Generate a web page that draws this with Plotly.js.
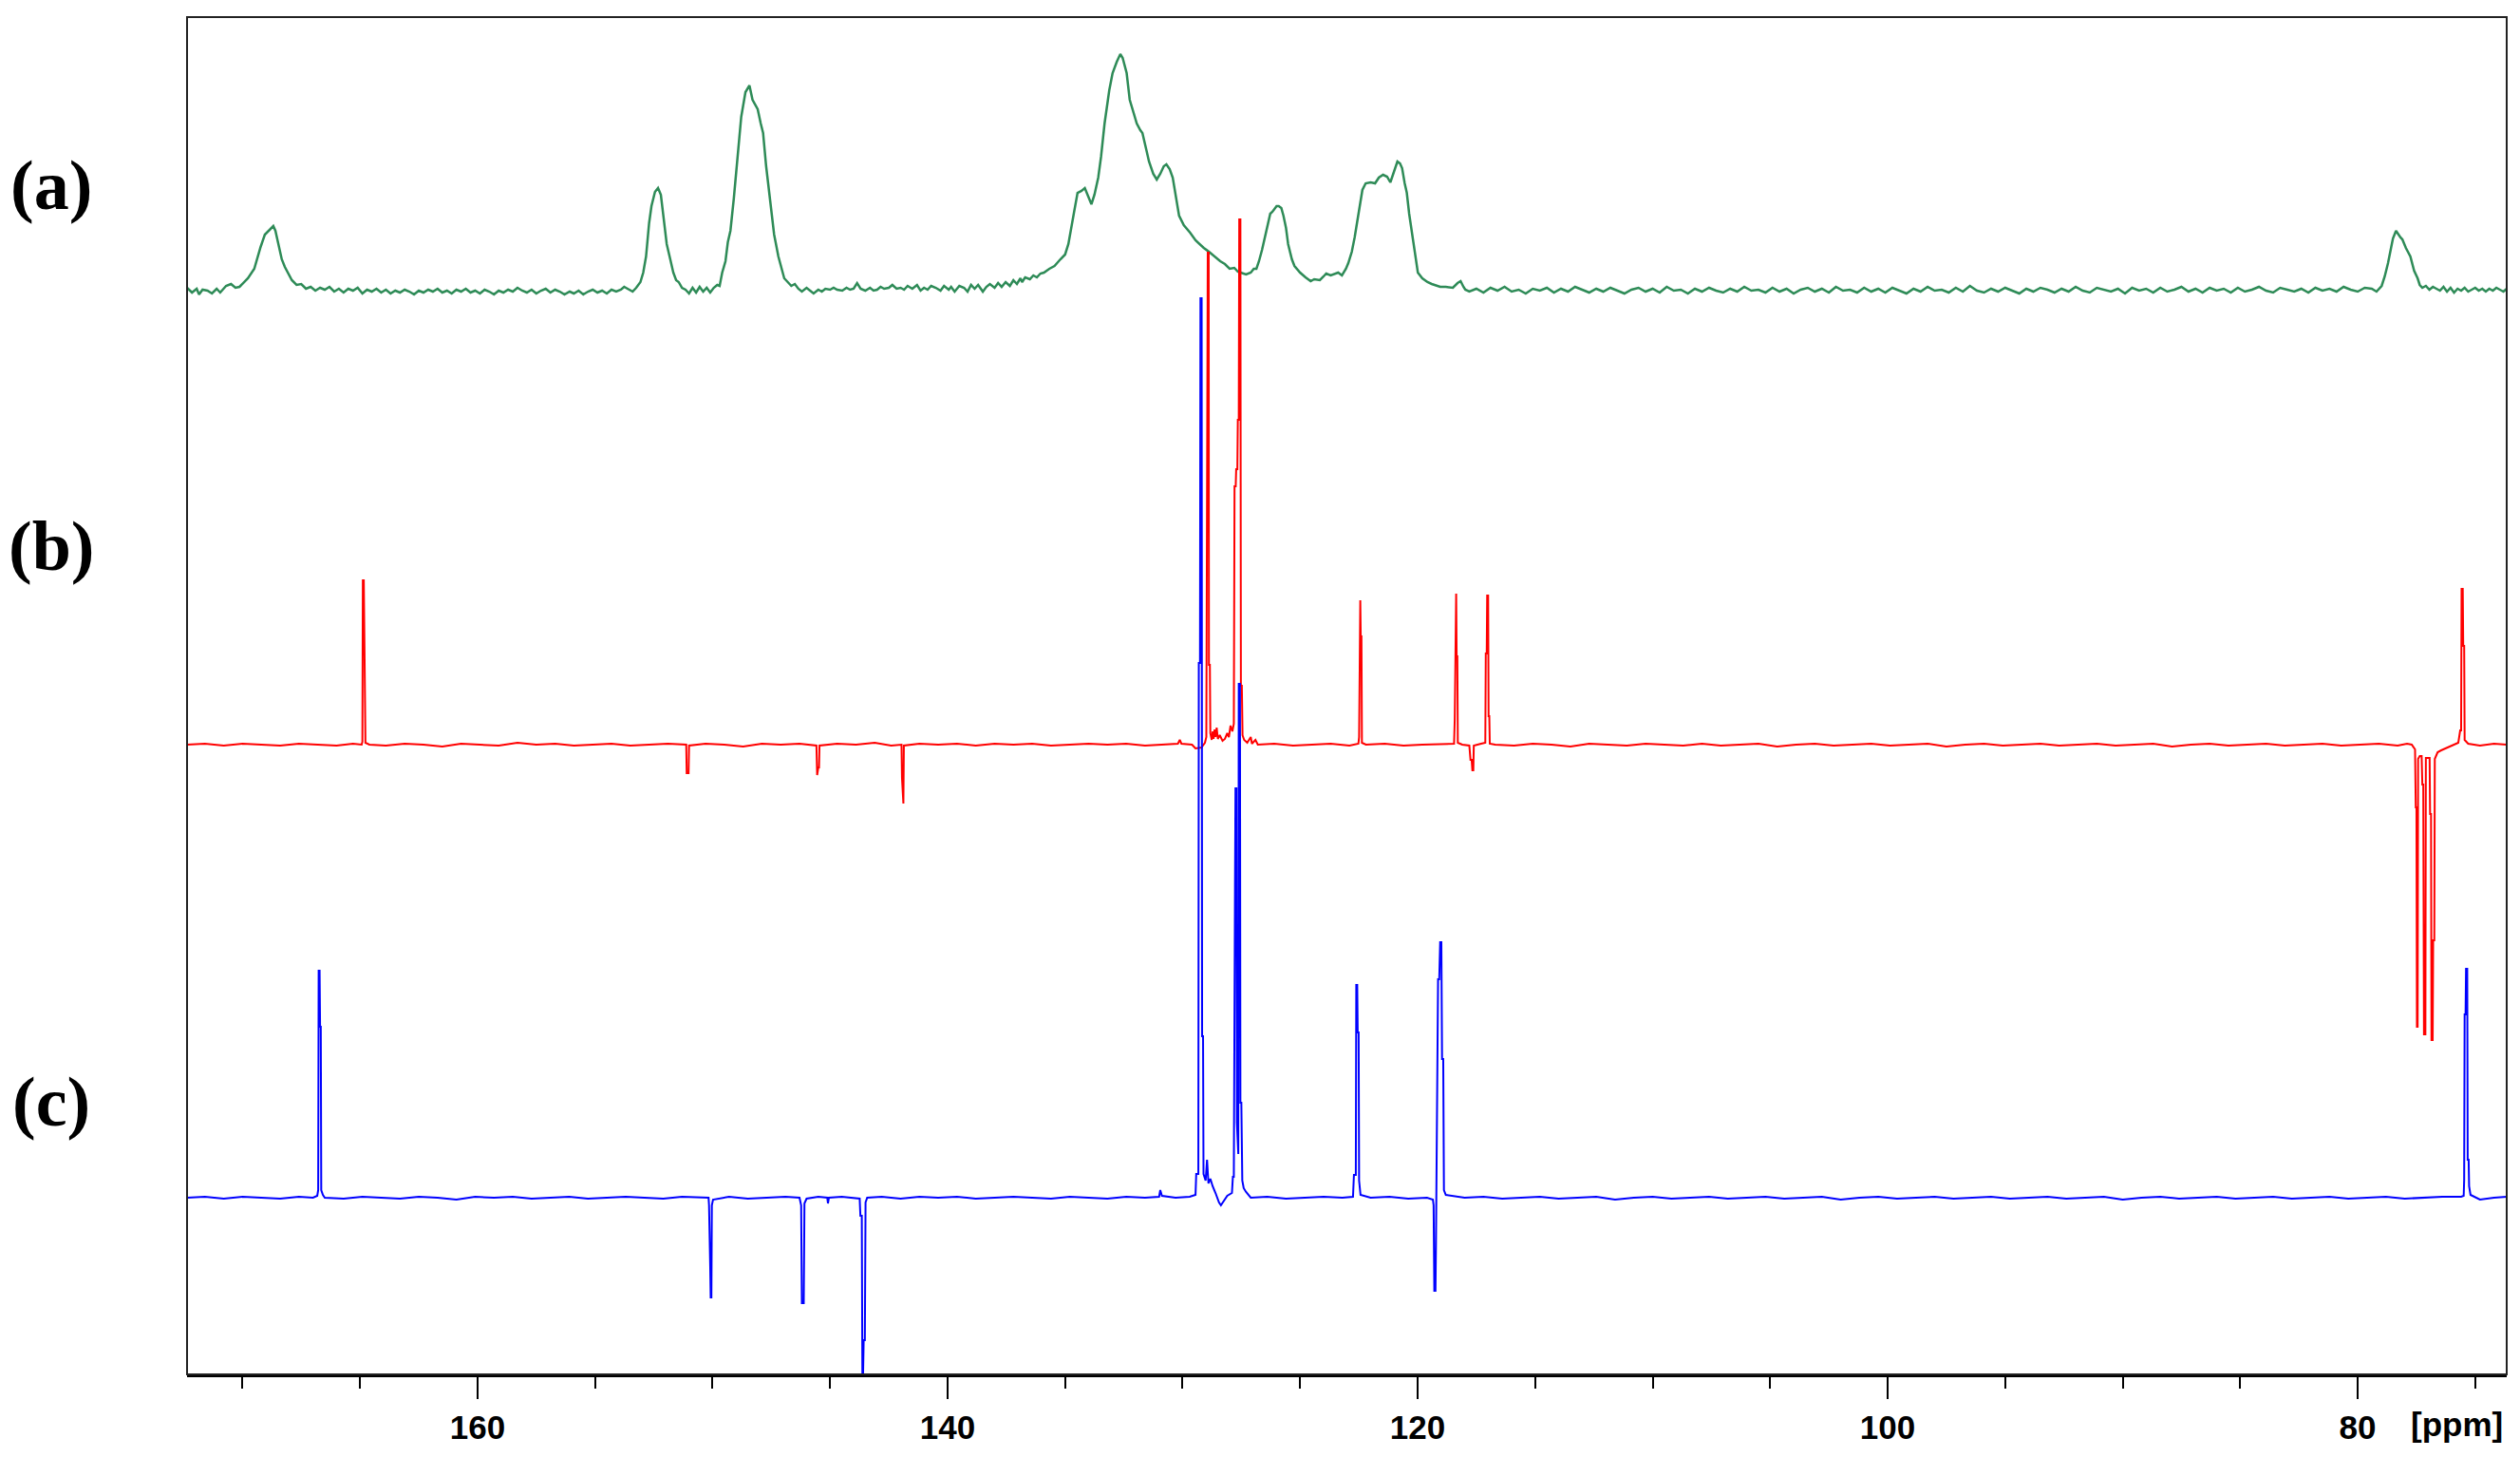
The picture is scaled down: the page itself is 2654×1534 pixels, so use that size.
<!DOCTYPE html>
<html>
<head>
<meta charset="utf-8">
<script src="https://cdn.plot.ly/plotly-3.0.1.min.js"></script>
<style>
  html, body { margin: 0; padding: 0; background: #fff; }
  #spectra { width: 2654px; height: 1534px; }
</style>
</head>
<body>
<div id="spectra"></div>
<script>
// chemical shift [ppm], intensity above the trace's own baseline
var specA = [
  [172.36,2],[172.15,-3],[171.95,1],[171.85,-5],[171.7,0],[171.49,-1],[171.3,-4],[171.1,1],[170.95,-3],[170.7,4],
  [170.49,6],[170.3,2],[170.13,3],[169.95,8],[169.77,12],[169.5,22],[169.35,36],[169.23,45],[169.05,58],[168.85,63],
  [168.69,67],[168.6,62],[168.51,52],[168.33,32],[168.2,24],[168.06,18],[167.9,10],[167.7,5],[167.5,6],[167.3,1],
  [167.1,3],[166.9,-1],[166.7,2],[166.5,0],[166.3,3],[166.1,-2],[165.9,1],[165.7,-3],[165.5,1],[165.3,-1],
  [165.1,2],[164.9,-4],[164.7,0],[164.5,-2],[164.3,1],[164.1,-3],[163.9,0],[163.7,-4],[163.5,-1],[163.3,-3],
  [163.1,0],[162.9,-2],[162.7,-5],[162.5,-1],[162.3,-3],[162.1,0],[161.9,-2],[161.7,1],[161.5,-3],[161.3,-1],
  [161.1,-4],[160.9,0],[160.7,-2],[160.5,1],[160.3,-3],[160.1,-1],[159.9,-4],[159.7,0],[159.5,-2],[159.3,-5],
  [159.1,-1],[158.9,-3],[158.7,0],[158.5,-2],[158.3,2],[158.1,-1],[157.9,-3],[157.7,0],[157.5,-4],[157.3,-1],
  [157.1,1],[156.9,-3],[156.7,0],[156.5,-2],[156.3,-5],[156.08,-2],[155.9,-4],[155.7,-1],[155.5,-5],[155.3,-2],
  [155.1,0],[154.9,-3],[154.7,-1],[154.5,-4],[154.3,0],[154.1,-2],[153.9,0],[153.76,3],[153.6,1],[153.4,-2],
  [153.25,2],[153.07,8],[152.95,18],[152.83,35],[152.7,70],[152.6,88],[152.45,103],[152.32,107],[152.2,100],[152.14,88],
  [152.05,70],[151.95,48],[151.8,32],[151.67,18],[151.55,10],[151.44,8],[151.3,2],[151.15,0],[151.0,-4],[150.85,2],
  [150.7,-3],[150.55,3],[150.4,-2],[150.25,2],[150.1,-3],[149.95,2],[149.8,5],[149.7,4],[149.59,18],[149.45,30],
  [149.35,50],[149.24,62],[149.1,95],[149.01,120],[148.9,150],[148.78,182],[148.6,208],[148.43,215],[148.3,200],[148.2,195],
  [148.08,190],[147.95,175],[147.85,165],[147.72,130],[147.62,110],[147.5,80],[147.38,58],[147.2,35],[147.08,25],[146.95,12],
  [146.8,8],[146.65,4],[146.5,6],[146.35,1],[146.2,-2],[146.0,2],[145.85,-1],[145.7,-4],[145.5,0],[145.35,-2],
  [145.2,1],[145.0,0],[144.85,2],[144.7,0],[144.48,-1],[144.3,2],[144.15,0],[144.0,1],[143.85,7],[143.7,1],
  [143.5,-1],[143.3,2],[143.15,-1],[143.0,0],[142.85,3],[142.7,1],[142.5,2],[142.35,5],[142.17,1],[142.0,2],
  [141.85,0],[141.7,4],[141.5,1],[141.3,5],[141.15,-1],[141.0,2],[140.85,0],[140.7,4],[140.5,2],[140.3,-1],
  [140.15,4],[139.95,0],[139.85,3],[139.7,-2],[139.5,4],[139.3,2],[139.15,-2],[139.0,5],[138.85,1],[138.7,5],
  [138.5,-2],[138.35,3],[138.2,6],[138.0,2],[137.85,7],[137.7,3],[137.53,8],[137.35,4],[137.2,10],[137.05,6],
  [136.9,12],[136.83,8],[136.7,13],[136.5,11],[136.35,15],[136.2,13],[136.05,17],[135.9,18],[135.67,22],[135.45,25],
  [135.2,32],[135.0,37],[134.86,48],[134.75,62],[134.63,80],[134.47,102],[134.3,104],[134.16,107],[134.0,98],[133.88,90],
  [133.75,100],[133.59,118],[133.47,140],[133.32,175],[133.12,210],[132.98,228],[132.8,240],[132.65,248],[132.55,244],[132.38,228],
  [132.25,200],[132.11,188],[131.95,175],[131.8,168],[131.71,165],[131.55,148],[131.43,135],[131.25,122],[131.1,116],[130.95,122],
  [130.8,130],[130.69,132],[130.55,127],[130.42,118],[130.3,100],[130.15,78],[129.95,68],[129.68,60],[129.45,52],[129.28,48],
  [129.1,44],[128.88,40],[128.6,34],[128.4,30],[128.2,27],[128.0,22],[127.8,23],[127.65,19],[127.53,18],[127.3,16],
  [127.1,18],[126.97,22],[126.86,22],[126.75,30],[126.62,42],[126.45,60],[126.27,80],[126.18,82],[126.0,88],[125.91,88],
  [125.8,86],[125.71,78],[125.6,65],[125.51,48],[125.35,32],[125.24,25],[125.0,18],[124.77,13],[124.55,9],[124.4,11],
  [124.16,10],[124.0,14],[123.89,17],[123.7,15],[123.5,17],[123.38,18],[123.22,15],[123.05,22],[122.95,28],[122.8,40],
  [122.68,55],[122.55,75],[122.48,88],[122.35,105],[122.21,112],[122.0,113],[121.81,112],[121.65,118],[121.47,121],[121.3,119],
  [121.16,113],[121.0,125],[120.86,135],[120.75,133],[120.66,128],[120.55,112],[120.46,102],[120.36,80],[120.26,62],[120.1,35],
  [119.99,18],[119.8,12],[119.58,8],[119.4,6],[119.2,4],[119.04,3],[118.8,3],[118.5,2],[118.3,7],[118.17,9],
  [118.05,3],[117.97,0],[117.8,-2],[117.5,1],[117.2,-3],[116.9,2],[116.6,-1],[116.3,3],[116.0,-2],[115.7,0],
  [115.4,-4],[115.1,1],[114.8,-1],[114.5,2],[114.2,-3],[113.9,1],[113.6,-2],[113.3,3],[113.0,0],[112.7,-3],
  [112.4,1],[112.1,-2],[111.8,2],[111.5,-1],[111.2,-4],[110.9,0],[110.6,2],[110.3,-2],[110.0,1],[109.7,-3],
  [109.4,3],[109.1,-1],[108.8,0],[108.5,-4],[108.2,1],[107.9,-2],[107.6,2],[107.3,-1],[107.0,-3],[106.7,1],
  [106.4,-2],[106.1,3],[105.8,-1],[105.5,0],[105.2,-3],[104.9,2],[104.6,-2],[104.3,1],[104.0,-4],[103.7,0],
  [103.4,2],[103.1,-2],[102.8,1],[102.5,-3],[102.2,3],[101.9,-1],[101.6,0],[101.3,-3],[101.0,2],[100.7,-2],
  [100.4,1],[100.1,-3],[99.8,2],[99.5,-1],[99.2,-4],[98.9,1],[98.6,-2],[98.3,3],[98.0,-1],[97.7,0],
  [97.4,-3],[97.1,2],[96.8,-2],[96.5,4],[96.2,-1],[95.9,-3],[95.6,1],[95.3,-2],[95.0,2],[94.7,-1],
  [94.4,-4],[94.1,1],[93.8,-2],[93.5,2],[93.2,0],[92.9,-3],[92.6,1],[92.3,-2],[92.0,3],[91.7,-1],
  [91.4,-3],[91.1,2],[90.8,0],[90.5,-2],[90.2,1],[89.9,-4],[89.6,2],[89.3,-1],[89.0,1],[88.7,-3],
  [88.4,2],[88.1,-2],[87.8,0],[87.5,3],[87.2,-2],[86.9,1],[86.6,-3],[86.3,2],[86.0,-1],[85.7,1],
  [85.4,-3],[85.1,2],[84.8,-2],[84.5,0],[84.2,3],[83.9,-1],[83.6,-3],[83.3,2],[83.0,0],[82.7,-2],
  [82.4,1],[82.1,-3],[81.8,2],[81.5,-1],[81.2,1],[80.9,-2],[80.6,3],[80.3,0],[80.0,-2],[79.7,2],
  [79.4,1],[79.2,-2],[78.98,4],[78.85,14],[78.71,28],[78.6,42],[78.5,54],[78.37,62],[78.28,58],[78.18,55],
  [78.1,53],[77.95,44],[77.76,35],[77.6,20],[77.45,12],[77.36,5],[77.25,2],[77.1,4],[76.95,0],[76.8,3],
  [76.65,1],[76.5,-1],[76.35,3],[76.2,-2],[76.05,2],[75.9,-3],[75.75,1],[75.6,-1],[75.45,2],[75.3,-2],
  [75.15,0],[75.0,2],[74.85,-1],[74.7,1],[74.55,-2],[74.4,1],[74.25,-1],[74.1,2],[73.95,0],[73.8,-2],
  [73.66,1]
];

var specB = [
  [172.36,0],[171.6,1],[170.8,-1],[170.0,1],[169.2,0],[168.4,-1],[167.6,1],[166.8,0],[166.0,-1],[165.3,1],
  [164.93,0],[164.9,3],[164.88,173],[164.84,173],[164.82,95],[164.79,95],[164.77,2],[164.6,0],
  [163.9,-1],[163.1,1],[162.3,0],[161.5,-2],[160.7,1],[159.9,0],[159.1,-1],[158.3,2],[157.5,0],[156.7,1],
  [155.9,-1],[155.1,0],[154.3,1],[153.5,-1],[152.7,0],[151.9,1],
  [151.12,0],[151.1,-30],[151.02,-30],[151.0,-1],[150.3,1],[149.5,0],[148.7,-2],[147.9,1],[147.1,0],[146.3,1],
  [145.58,-1],[145.55,-32],[145.5,-24],[145.47,-24],[145.45,-1],[144.7,1],[143.9,0],[143.1,2],[142.4,-1],
  [141.96,0],[141.94,-35],[141.91,-62],[141.88,-62],[141.86,-1],[141.2,1],[140.4,0],[139.6,1],[138.8,-1],
  [138.0,1],[137.2,0],[136.4,1],[135.6,-1],[134.8,0],[134.0,1],[133.2,0],[132.4,1],[131.6,-1],[131.0,0],
  [130.2,1],[130.12,5],[130.05,1],[129.6,0],[129.45,-4],[129.2,-3],[129.05,2],[128.99,8],
  [128.97,323],[128.94,323],[128.93,518],[128.89,518],[128.88,84],[128.84,84],[128.82,12],
  [128.76,5],[128.72,14],[128.68,6],[128.64,16],[128.6,8],[128.55,18],[128.5,6],[128.42,10],[128.3,4],
  [128.2,6],[128.1,12],[128.03,8],[127.96,20],[127.88,14],[127.82,22],
  [127.79,272],[127.74,272],[127.72,290],[127.67,290],[127.65,342],[127.61,342],[127.59,553],[127.54,553],
  [127.52,62],[127.48,62],[127.45,10],[127.38,5],[127.25,2],[127.1,8],[127.05,1],[126.9,5],[126.8,0],
  [126.1,1],[125.3,-1],[124.5,0],[123.7,1],[122.9,-1],
  [122.52,1],[122.49,8],[122.47,152],[122.44,152],[122.42,114],[122.39,114],[122.37,2],[122.2,0],
  [121.4,1],[120.6,-1],[119.8,0],[119.0,1],
  [118.45,1],[118.42,27],[118.39,159],[118.36,159],[118.34,93],[118.31,93],[118.29,2],[118.1,0],
  [117.8,-1],[117.75,-16],[117.7,-16],[117.67,-27],[117.63,-27],[117.61,-1],[117.3,1],
  [117.12,2],[117.1,96],[117.06,96],[117.04,157],[117.0,157],[116.98,30],[116.95,30],[116.93,1],[116.7,0],
  [115.9,-1],[115.1,1],[114.3,0],[113.5,-2],[112.7,1],[111.9,0],[111.1,-1],[110.3,1],[109.5,0],[108.7,-1],
  [107.9,1],[107.1,-1],[106.3,0],[105.5,1],[104.7,-2],[103.9,0],[103.1,1],[102.3,-1],[101.5,0],[100.7,1],
  [99.9,-1],[99.1,0],[98.3,1],[97.5,-2],[96.7,0],[95.9,1],[95.1,-1],[94.3,0],[93.5,1],[92.7,-1],
  [91.9,0],[91.1,1],[90.3,-1],[89.5,0],[88.7,1],[87.9,-2],[87.1,0],[86.3,1],[85.5,-1],[84.7,0],
  [83.9,1],[83.1,-1],[82.3,0],[81.5,1],[80.7,-1],[79.9,0],[79.1,1],[78.3,-1],[77.9,1],
  [77.7,0],[77.56,-5],[77.53,-66],[77.5,-66],[77.48,-297],[77.45,-297],[77.43,-15],[77.36,-12],[77.28,-12],
  [77.25,-42],[77.21,-42],[77.18,-305],[77.12,-305],[77.1,-14],[77.0,-14],[76.94,-14],[76.92,-73],[76.88,-73],
  [76.86,-311],[76.81,-311],[76.79,-206],[76.74,-206],[76.72,-15],[76.6,-8],[76.45,-6],[76.2,-3],[75.9,0],
  [75.72,2],[75.64,15],[75.6,15],[75.58,164],[75.53,164],[75.51,104],[75.47,104],[75.45,5],[75.3,1],
  [74.8,-1],[74.2,1],[73.66,0]
];

var specC = [
  [172.36,0],[171.6,1],[170.8,-1],[170.0,1],[169.2,0],[168.4,-1],[167.6,1],[167.0,0],
  [166.82,2],[166.78,8],[166.76,239],[166.72,239],[166.7,180],[166.67,180],[166.65,8],[166.58,3],[166.5,0],
  [165.7,-1],[164.9,1],[164.1,0],[163.3,-1],[162.5,1],[161.7,0],[160.9,-2],[160.1,1],[159.3,0],[158.5,1],
  [157.7,-1],[156.9,0],[156.1,1],[155.3,-1],[154.5,0],[153.7,1],[152.9,0],[152.1,-1],[151.3,1],[150.5,0],
  [150.17,0],[150.15,-8],[150.13,-72],[150.1,-72],[150.08,-105],[150.05,-105],[150.03,-8],[149.98,-2],
  [149.3,1],[148.5,-1],[147.7,0],[146.9,1],[146.3,0],
  [146.23,-8],[146.2,-111],[146.12,-111],[146.09,-6],[146.0,-1],[145.5,1],[145.12,0],[145.09,-6],[145.05,0],
  [144.5,1],[143.9,0],[143.74,-1],[143.71,-19],[143.65,-19],[143.62,-220],[143.57,-150],[143.52,-150],
  [143.49,-5],[143.42,0],[142.8,1],[142.0,-1],[141.2,1],[140.4,0],[139.6,1],[138.8,-1],[138.0,0],
  [137.2,1],[136.4,0],[135.6,-1],[134.8,1],[134.0,0],[133.2,-1],[132.4,1],[131.6,0],[131.0,1],
  [130.95,8],[130.88,2],[130.3,0],[129.7,1],[129.45,3],
  [129.42,25],[129.33,25],[129.31,563],[129.26,563],[129.24,947],[129.19,947],[129.17,170],[129.13,170],
  [129.11,25],[129.02,18],[128.96,40],[128.9,15],[128.82,20],[128.72,12],[128.6,5],[128.45,-5],[128.37,-8],
  [128.25,-4],[128.1,2],[127.9,5],
  [127.86,22],[127.82,22],[127.8,327],[127.77,327],[127.75,431],[127.71,431],[127.69,79],[127.66,46],
  [127.63,46],[127.61,541],[127.56,541],[127.54,100],[127.5,100],[127.46,18],[127.4,10],[127.3,6],[127.1,0],
  [126.4,1],[125.6,-1],[124.8,0],[124.0,1],[123.2,0],
  [122.75,1],[122.71,24],[122.63,24],[122.61,224],[122.57,224],[122.55,174],[122.51,174],[122.49,18],[122.43,3],
  [122.0,0],[121.2,1],[120.4,-1],[119.6,0],
  [119.35,-2],[119.32,-8],[119.29,-98],[119.24,-98],[119.22,-50],[119.2,15],[119.13,230],[119.08,230],
  [119.04,269],[118.99,269],[118.96,146],[118.91,146],[118.88,8],[118.8,3],
  [118.0,0],[117.2,1],[116.4,-1],[115.6,0],[114.8,1],[114.0,-1],[113.2,0],[112.4,1],[111.6,-2],[110.8,0],
  [110.0,1],[109.2,-1],[108.4,0],[107.6,1],[106.8,-1],[106.0,0],[105.2,1],[104.4,-1],[103.6,0],[102.8,1],
  [102.0,-2],[101.2,0],[100.4,1],[99.6,-1],[98.8,0],[98.0,1],[97.2,-1],[96.4,0],[95.6,1],[94.8,-1],
  [94.0,0],[93.2,1],[92.4,-1],[91.6,0],[90.8,1],[90.0,-2],[89.2,0],[88.4,1],[87.6,-1],[86.8,0],
  [86.0,1],[85.2,-1],[84.4,0],[83.6,1],[82.8,-1],[82.0,0],[81.2,1],[80.4,-1],[79.6,0],[78.8,1],
  [78.0,-1],[77.2,0],[76.4,1],[75.6,1],
  [75.49,2],[75.47,19],[75.45,193],[75.41,193],[75.39,241],[75.34,241],[75.32,40],[75.28,40],[75.26,12],
  [75.2,3],[74.8,-2],[74.2,0],[73.66,1]
];

var labels = ['(a)', '(b)', '(c)'];
var colors = ['#2e8b57', '#ff0000', '#0000ff'];

// vertical stacking of the three spectra (plot units = px above the x axis)
var baseline = [1142, 663, 186];
var labelY = [0.876, 0.610, 0.201];

function toTrace(points, i) {
    return {
        type: 'scatter',
        mode: 'lines',
        x: points.map(function (p) { return p[0]; }),
        y: points.map(function (p) { return p[1] + baseline[i]; }),
        line: { color: colors[i], width: i === 0 ? 2.5 : 2 },
        hoverinfo: 'skip',
        showlegend: false
    };
}

var data = [toTrace(specA, 0), toTrace(specB, 1), toTrace(specC, 2)];

var tickFont = {
    family: 'Liberation Sans, Arial, sans-serif',
    size: 35, color: '#000', weight: 'bold'
};

var annotations = labels.map(function (t, i) {
    return {
        text: t, xref: 'paper', yref: 'paper', x: -0.0585, y: labelY[i],
        xanchor: 'center', yanchor: 'middle', showarrow: false,
        font: { family: 'Liberation Serif, Times New Roman, serif', size: 74, color: '#000', weight: 'bold' }
    };
});
annotations.push({
    text: '[ppm]', xref: 'paper', yref: 'paper', x: 0.999, y: 0, yshift: -52,
    xanchor: 'right', yanchor: 'middle', showarrow: false, font: tickFont
});

var layout = {
    width: 2654,
    height: 1534,
    margin: { l: 197, r: 14, t: 18, b: 87 },
    paper_bgcolor: '#fff',
    plot_bgcolor: '#fff',
    xaxis: {
        range: [172.36, 73.66],
        tickvals: [160, 140, 120, 100, 80],
        ticks: 'outside', ticklen: 23, tickwidth: 2, tickcolor: '#000',
        minor: { dtick: 5, tick0: 0, ticks: 'outside', ticklen: 12, tickwidth: 2, tickcolor: '#000' },
        showgrid: false, zeroline: false,
        showline: true, linewidth: 3, linecolor: '#000',
        tickfont: tickFont,
        fixedrange: true
    },
    yaxis: {
        range: [0, 1429],
        visible: false,
        fixedrange: true
    },
    shapes: [{
        type: 'rect', xref: 'paper', yref: 'paper', x0: 0, x1: 1, y0: 0, y1: 1,
        line: { color: '#222', width: 2 }
    }],
    annotations: annotations
};

Plotly.newPlot('spectra', data, layout, { staticPlot: true });
</script>
</body>
</html>
